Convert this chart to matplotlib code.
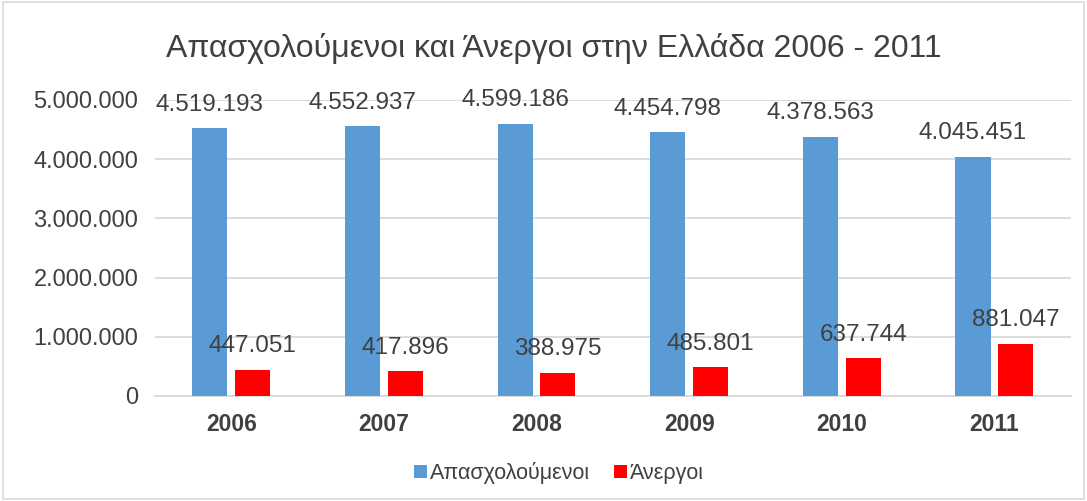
import matplotlib.pyplot as plt
import matplotlib.ticker as ticker
from matplotlib.patches import Rectangle
import numpy as np

# Data
years = ['2006', '2007', '2008', '2009', '2010', '2011']
employed = [4519193, 4552937, 4599186, 4454798, 4378563, 4045451]
unemployed = [447051, 417896, 388975, 485801, 637744, 881047]
series_names = ['Απασχολούμενοι', 'Άνεργοι']

blue = '#5B9BD5'
red = '#FF0000'
text_color = '#404040'
grid_color = '#D9D9D9'

plt.rcParams['font.family'] = ['Liberation Sans', 'DejaVu Sans']


def dot_fmt(v):
    return f'{int(round(v)):,}'.replace(',', '.')


fig = plt.figure(figsize=(10.87, 5.01), dpi=100)
ax = fig.add_axes([0.1426, 0.2096, 0.8424, 0.5908])

x = np.arange(len(years))
width = 0.23
offset = 0.14
b1 = ax.bar(x - offset, employed, width=width, color=blue, label=series_names[0], zorder=3)
b2 = ax.bar(x + offset, unemployed, width=width, color=red, label=series_names[1], zorder=3)

ax.set_xlim(-0.5, len(years) - 0.5)
ax.set_ylim(0, 5000000)
ax.yaxis.set_major_locator(ticker.MultipleLocator(1000000))
ax.yaxis.set_major_formatter(ticker.FuncFormatter(lambda v, p: dot_fmt(v)))

ax.grid(True, axis='y', color=grid_color, linewidth=1.3, zorder=0)
for s in ['top', 'right', 'left']:
    ax.spines[s].set_visible(False)
ax.spines['bottom'].set_color(grid_color)
ax.spines['bottom'].set_linewidth(1.3)

ax.set_xticks(x)
ax.set_xticklabels(years, fontsize=16.5, fontweight='bold', color=text_color)
ax.tick_params(axis='x', length=0, pad=12)
ax.tick_params(axis='y', length=0, pad=12, labelsize=17, labelcolor=text_color)

for bars in (b1, b2):
    ax.bar_label(bars, labels=[dot_fmt(b.get_height()) for b in bars],
                 padding=9, fontsize=17.5, color=text_color, clip_on=False)

fig.suptitle('Απασχολούμενοι και Άνεργοι στην Ελλάδα 2006 - 2011',
             fontsize=23, color=text_color, x=0.51, y=0.935)

leg = fig.legend(loc='center', bbox_to_anchor=(0.514, 0.056), ncol=2, frameon=False,
                 fontsize=15.5, handlelength=0.6, handleheight=0.6,
                 handletextpad=0.15, columnspacing=1.1)
for t in leg.get_texts():
    t.set_color(text_color)

# Chart border
fig.patches.append(Rectangle((0.003, 0.004), 0.994, 0.992, transform=fig.transFigure,
                             fill=False, edgecolor='#D9D9D9', linewidth=1.2))

fig.savefig('out.png', dpi=100)
